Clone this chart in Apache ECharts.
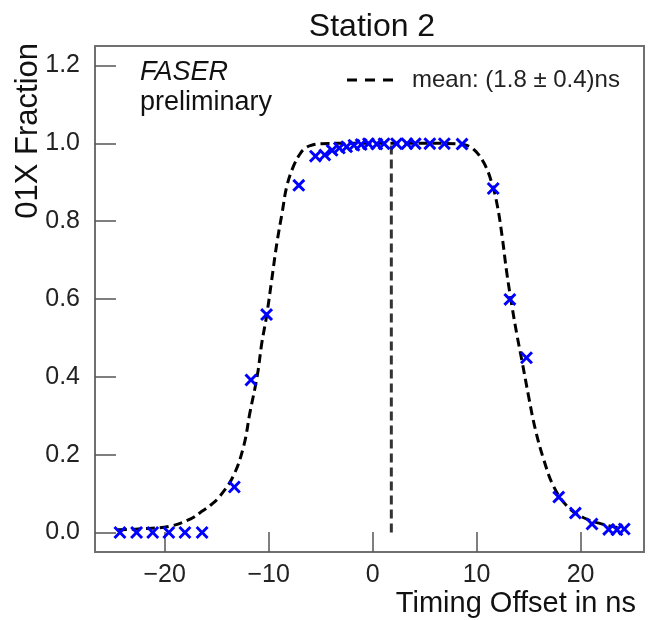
<!DOCTYPE html>
<html>
<head>
<meta charset="utf-8">
<style>html,body{margin:0;padding:0;background:#fff}#chart{width:649px;height:620px}</style>
<script src="https://cdn.jsdelivr.net/npm/echarts@6/dist/echarts.min.js"></script>
</head>
<body>
<div id="chart"></div>
<script>
// Measured data points (timing offset in ns, 01X fraction)
const pointX = [-24.3, -22.7, -21.15, -19.6, -18.05, -16.4, -13.3, -11.7, -10.2, -7.1, -5.5, -4.6, -3.9, -3.2, -2.5, -1.8, -1.1, -0.4, 0.4, 1.1, 2.3, 3.3, 4.1, 5.5, 6.9, 8.6, 11.6, 13.2, 14.8, 17.9, 19.5, 21.1, 22.7, 23.5, 24.2];
const pointY = [0.0, 0.0, 0.0, 0.0, 0.0, 0.0, 0.117, 0.392, 0.560, 0.892, 0.967, 0.970, 0.982, 0.988, 0.991, 0.995, 0.997, 0.999, 0.998, 0.999, 0.999, 0.999, 0.999, 0.999, 0.999, 0.998, 0.884, 0.599, 0.449, 0.091, 0.050, 0.022, 0.008, 0.007, 0.009];
// Fit curve
const fitX = [-24.5, -22.0, -19.5, -17.5, -16.6, -15.5, -14.7, -13.4, -12.4, -11.8, -11.1, -10.65, -10.2, -9.7, -9.2, -8.7, -8.25, -7.6, -7.0, -6.6, -6.0, -5.0, -3.0, 0.0, 3.0, 6.0, 8.0, 8.75, 9.7, 10.7, 11.5, 12.0, 12.45, 12.9, 13.4, 13.9, 14.4, 15.0, 15.65, 16.45, 17.4, 18.7, 20.3, 22.2, 23.8];
const fitY = [0.007, 0.010, 0.016, 0.035, 0.051, 0.072, 0.093, 0.145, 0.222, 0.308, 0.402, 0.488, 0.556, 0.650, 0.745, 0.822, 0.890, 0.942, 0.972, 0.985, 0.994, 0.999, 1.0, 1.0, 1.0, 1.0, 0.999, 0.997, 0.985, 0.950, 0.895, 0.839, 0.762, 0.668, 0.582, 0.505, 0.436, 0.350, 0.265, 0.188, 0.119, 0.068, 0.038, 0.021, 0.012];
// Mean line
const meanX = [1.8, 1.8];
const meanY = [0.0, 1.0];
const meanLabel = 'mean: (1.8 \u00b1 0.4)ns';
// Tick labels
const xTicks = [-20, -10, 0, 10, 20];
const yTicks = [0.0, 0.2, 0.4, 0.6, 0.8, 1.0, 1.2];

const FONT = 'Liberation Sans';
const zip = (a, b) => a.map((v, i) => [v, b[i]]);
const xMark = 'path://M0,1.6L1.6,0L5,3.4L8.4,0L10,1.6L6.6,5L10,8.4L8.4,10L5,6.6L1.6,10L0,8.4L3.4,5Z';
const dashIcon = 'path://M0,0h10v3h-10zM18,0h10v3h-10zM36,0h10v3h-10z';

const chart = echarts.init(document.getElementById('chart'), null, {renderer: 'canvas'});
chart.setOption({
  animation: false,
  backgroundColor: '#fff',
  grid: {left: 95, right: 5, top: 46, bottom: 68, show: true, borderColor: '#707070', borderWidth: 2, outerBoundsMode: 'none'},
  xAxis: {
    type: 'value', min: -26.7, max: 26.1,
    axisLine: {show: false, onZero: false},
    splitLine: {show: false},
    axisTick: {inside: true, length: 20, customValues: xTicks, lineStyle: {color: '#555', width: 1.5}},
    axisLabel: {customValues: xTicks, fontFamily: FONT, fontSize: 25, color: '#222', margin: 11,
      formatter: v => String(v).replace('-', '\u2212')}
  },
  yAxis: {
    type: 'value', min: -0.05, max: 1.25,
    axisLine: {show: false, onZero: false},
    splitLine: {show: false},
    axisTick: {inside: true, length: 21, customValues: yTicks, lineStyle: {color: '#555', width: 1.5}},
    axisLabel: {customValues: yTicks, fontFamily: FONT, fontSize: 25, color: '#222', margin: 15,
      formatter: v => v.toFixed(1)}
  },
  legend: {
    show: true, left: 342, top: 63,
    data: [{name: meanLabel, icon: dashIcon}],
    itemWidth: 50, itemHeight: 3,
    textStyle: {fontFamily: FONT, fontSize: 24, color: '#222', padding: [0, 0, 0, 12]}
  },
  graphic: [
    {type: 'text', x: 372, y: 27, style: {text: 'Station 2', fontFamily: FONT, fontSize: 32, fill: '#111', textAlign: 'center', textVerticalAlign: 'middle'}},
    {type: 'text', x: 636, y: 604, style: {text: 'Timing Offset in ns', fontFamily: FONT, fontSize: 29, fill: '#111', textAlign: 'right', textVerticalAlign: 'middle'}},
    {type: 'text', x: 28, y: 43, rotation: Math.PI / 2, style: {text: '01X Fraction', fontFamily: FONT, fontSize: 31, fill: '#111', textAlign: 'right', textVerticalAlign: 'middle'}},
    {type: 'text', x: 140, y: 72, style: {text: 'FASER', fontFamily: FONT, fontStyle: 'italic', fontSize: 27, fill: '#111', textAlign: 'left', textVerticalAlign: 'middle'}},
    {type: 'text', x: 140, y: 103, style: {text: 'preliminary', fontFamily: FONT, fontSize: 27, fill: '#111', textAlign: 'left', textVerticalAlign: 'middle'}}
  ],
  series: [
    {
      type: 'line', name: 'fit', data: zip(fitX, fitY), smooth: 0.4, symbol: 'none',
      lineStyle: {color: '#000', width: 3, type: [9, 5]}, z: 3
    },
    {
      type: 'line', name: meanLabel, data: zip(meanX, meanY), symbol: 'none',
      lineStyle: {color: '#333', width: 3, type: [9, 5]}, itemStyle: {color: '#000'}, z: 3
    },
    {
      type: 'scatter', name: 'data', data: zip(pointX, pointY), symbol: xMark, symbolSize: 13,
      itemStyle: {color: '#0000ff', opacity: 1}, z: 4
    }
  ]
});
</script>
</body>
</html>
